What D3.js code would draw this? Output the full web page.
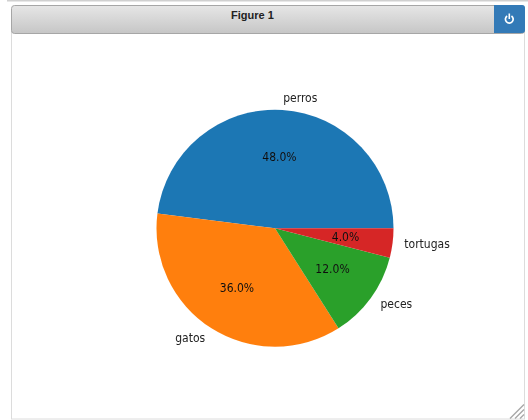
<!DOCTYPE html>
<html><head><meta charset="utf-8">
<script src="https://cdn.jsdelivr.net/npm/d3@7"></script>
<style>html,body{margin:0;padding:0;background:#fff;overflow:hidden}svg{display:block}</style>
</head><body><svg id="c" width="528" height="420"></svg>
<script>
const categories = ["perros","gatos","peces","tortugas"];
const values = [48,36,12,4];
const colors = ["#1f77b4","#ff7f0e","#2ca02c","#d62728"];
const title = "Figure 1";

const svg = d3.select("#c");
const defs = svg.append("defs");
const g = defs.append("linearGradient").attr("id","hdr").attr("x1",0).attr("x2",0).attr("y1",0).attr("y2",1);
g.append("stop").attr("offset","0%").attr("stop-color","#e6e6e6");
g.append("stop").attr("offset","100%").attr("stop-color","#c6c6c6");
defs.append("filter").attr("id","soft").append("feGaussianBlur").attr("stdDeviation",0.35);

// page top rule
svg.append("rect").attr("x",7).attr("y",0).attr("width",521).attr("height",1.5).attr("fill","#d0d0d0");
// figure frame
svg.append("rect").attr("x",11.5).attr("y",20).attr("width",513).attr("height",399).attr("fill","#fff").attr("stroke","#dcdcdc");
// title bar
svg.append("rect").attr("x",11.5).attr("y",5.5).attr("width",513).attr("height",28).attr("rx",3).attr("fill","url(#hdr)").attr("stroke","#a6a6a6");
svg.append("text").attr("x",252.5).attr("y",19).attr("text-anchor","middle")
  .attr("font-family","Liberation Sans").attr("font-weight","bold").attr("font-size",11).attr("fill","#222").text(title);
// power button
svg.append("path").attr("d","M494,5 H522 a3,3 0 0 1 3,3 V30 a3,3 0 0 1 -3,3 H494 Z").attr("fill","#337ab7");
const icon = d3.arc()({innerRadius:3,outerRadius:4.7,startAngle:0.6,endAngle:2*Math.PI-0.6});
svg.append("path").attr("d",icon).attr("transform","translate(509.3,19.2)").attr("fill","#fff");
svg.append("rect").attr("x",508.5).attr("y",13.5).attr("width",1.6).attr("height",5.5).attr("fill","#fff");
// resize grip
[[510,418.5,524,404.5],[515,418.5,524,409.5],[520,418.5,524,414.5]].forEach(d=>{
  svg.append("line").attr("x1",d[0]).attr("y1",d[1]).attr("x2",d[2]).attr("y2",d[3]).attr("stroke","#a8a8a8").attr("stroke-width",1.4);
});

// pie
const cx=275, cy=228.3, R=118.5;
const pie=d3.pie().sort(null).value(d=>d).startAngle(Math.PI/2).endAngle(Math.PI/2-2*Math.PI);
const arcs=pie(values);
const arc=d3.arc().innerRadius(0).outerRadius(R);
const root=svg.append("g").attr("transform",`translate(${cx},${cy})`).attr("filter","url(#soft)");
root.selectAll("path").data(arcs).join("path").attr("d",arc).attr("fill",(d,i)=>colors[i]);
const lab=d3.arc().innerRadius(R*1.1).outerRadius(R*1.1);
const pct=d3.arc().innerRadius(R*0.6).outerRadius(R*0.6);
const font="'DejaVu Sans Condensed','DejaVu Sans'", fs=12;
root.selectAll("text.l").data(arcs).join("text").attr("class","l")
  .attr("x",d=>lab.centroid(d)[0]).attr("y",d=>lab.centroid(d)[1]).attr("dy","0.28em")
  .attr("text-anchor",d=>lab.centroid(d)[0]>0?"start":"end")
  .attr("font-family",font).attr("font-stretch","condensed").attr("font-size",fs).attr("fill","#222")
  .text((d,i)=>categories[i]);
root.selectAll("text.p").data(arcs).join("text").attr("class","p")
  .attr("x",d=>pct.centroid(d)[0]).attr("y",d=>pct.centroid(d)[1]).attr("dy","0.28em")
  .attr("text-anchor","middle")
  .attr("font-family",font).attr("font-stretch","condensed").attr("font-size",fs).attr("fill","#111")
  .text(d=>d3.format(".1f")(d.value)+"%");
</script></body></html>
